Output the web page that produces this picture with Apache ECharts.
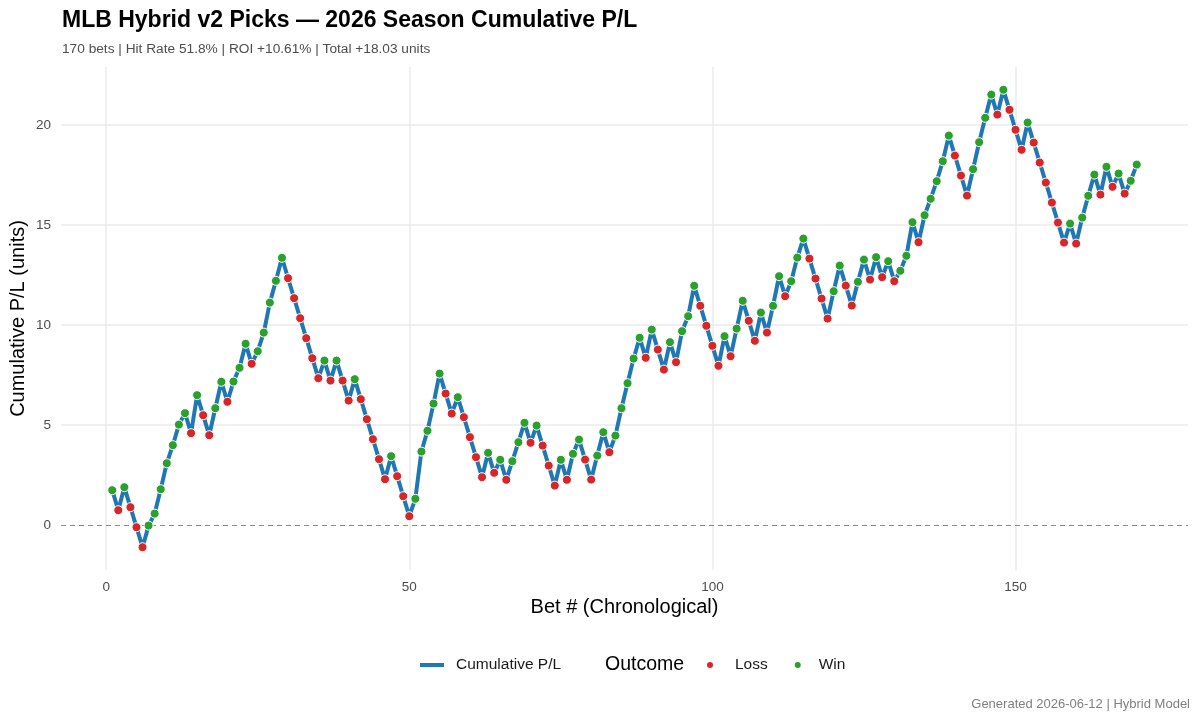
<!DOCTYPE html>
<html>
<head>
<meta charset="utf-8">
<script src="https://cdn.jsdelivr.net/npm/echarts@6/dist/echarts.min.js"></script>
<style>
  html, body { margin: 0; padding: 0; background: #fff; }
  #chart_container { width: 1200px; height: 720px; }
</style>
</head>
<body>
<div id="chart_container"></div>
<script>
// cumulative P/L after each bet
var cumulative = [
  1.75, 0.75, 1.9, 0.9, -0.1, -1.1, -0.02, 0.58, 1.8, 3.1,
  4.0, 5.03, 5.6, 4.6, 6.5, 5.5, 4.5, 5.85, 7.17, 6.17,
  7.18, 7.87, 9.07, 8.07, 8.7, 9.63, 11.13, 12.22, 13.37, 12.35,
  11.35, 10.35, 9.35, 8.35, 7.35, 8.23, 7.23, 8.23, 7.23, 6.23,
  7.3, 6.3, 5.3, 4.3, 3.3, 2.3, 3.45, 2.45, 1.45, 0.45,
  1.32, 3.68, 4.72, 6.08, 7.58, 6.58, 5.58, 6.4, 5.4, 4.4,
  3.4, 2.4, 3.62, 2.62, 3.27, 2.27, 3.2, 4.15, 5.12, 4.12,
  4.98, 3.98, 2.98, 1.98, 3.27, 2.27, 3.57, 4.28, 3.28, 2.28,
  3.48, 4.65, 3.65, 4.48, 5.85, 7.1, 8.33, 9.37, 8.37, 9.78,
  8.78, 7.78, 9.15, 8.15, 9.7, 10.45, 11.97, 10.97, 9.97, 8.97,
  7.97, 9.45, 8.45, 9.83, 11.22, 10.22, 9.22, 10.63, 9.63, 10.97,
  12.45, 11.45, 12.2, 13.38, 14.33, 13.33, 12.33, 11.33, 10.33, 11.7,
  12.98, 11.98, 10.98, 12.17, 13.28, 12.28, 13.4, 12.4, 13.2, 12.2,
  12.72, 13.47, 15.15, 14.15, 15.5, 16.32, 17.2, 18.2, 19.48, 18.48,
  17.48, 16.48, 17.8, 19.15, 20.37, 21.53, 20.53, 21.77, 20.77, 19.77,
  18.77, 20.13, 19.13, 18.13, 17.13, 16.13, 15.13, 14.13, 15.08, 14.08,
  15.38, 16.47, 17.53, 16.53, 17.92, 16.92, 17.58, 16.58, 17.22, 18.03
];

// W = win, L = loss
var outcomes = (
  "WLWLLLWWWW" + "WWWLWLLWWL" + "WWWLWWWWWL" + "LLLLLWLWLL" +
  "WLLLLLWLLL" + "WWWWWLLWLL" + "LLWLWLWWWL" + "WLLLWLWWLL" +
  "WWLWWWWWLW" + "LLWLWWWLLL" + "LWLWWLLWLW" + "WLWWWLLLLW" +
  "WLLWWLWLWL" + "WWWLWWWWWL" + "LLWWWWLWLL" + "LWLLLLLLWL" +
  "WWWLWLWLWW"
).split("");

var xTicks = [0, 50, 100, 150];
var yTicks = [0, 5, 10, 15, 20];
var gridX = [0, 50, 100, 150];
var gridY = [5, 10, 15, 20];

var lineData = [];
var lossData = [];
var winData = [];
for (var i = 0; i < cumulative.length; i++) {
  var pt = [i + 1, cumulative[i]];
  lineData.push(pt);
  if (outcomes[i] === "W") winData.push(pt);
  else lossData.push(pt);
}

var gridLines = [];
gridX.forEach(function (v) { gridLines.push({ xAxis: v }); });
gridY.forEach(function (v) { gridLines.push({ yAxis: v }); });

var dom = document.getElementById("chart_container");
var myChart = echarts.init(dom, null, { renderer: "canvas" });

var font = "Liberation Sans, Arial, sans-serif";

var option = {
  backgroundColor: "#ffffff",
  animation: false,
  textStyle: { fontFamily: font },
  title: {
    text: "MLB Hybrid v2 Picks \u2014 2026 Season Cumulative P/L",
    subtext: "170 bets | Hit Rate 51.8% | ROI +10.61% | Total +18.03 units",
    left: 62,
    top: 9,
    padding: 0,
    itemGap: 10,
    textStyle: { fontFamily: font, fontSize: 23, fontWeight: "bold", color: "#000" },
    subtextStyle: { fontFamily: font, fontSize: 13.7, color: "#4d4d4d" }
  },
  grid: { left: 61, right: 12, top: 67, bottom: 150, outerBoundsMode: "none", containLabel: false },
  xAxis: {
    type: "value",
    min: -7.45,
    max: 178.45,
    name: "Bet # (Chronological)",
    nameLocation: "middle",
    nameGap: 27,
    nameMoveOverlap: false,
    nameTextStyle: { fontFamily: font, fontSize: 20, color: "#000" },
    axisLine: { show: false },
    axisTick: { show: false, customValues: xTicks },
    axisLabel: { customValues: xTicks, color: "#4d4d4d", fontSize: 13.5, margin: 10 },
    splitLine: { show: false }
  },
  yAxis: {
    type: "value",
    min: -2.24,
    max: 22.91,
    name: "Cumulative P/L (units)",
    nameLocation: "middle",
    nameGap: 33,
    nameMoveOverlap: false,
    nameTextStyle: { fontFamily: font, fontSize: 20, color: "#000" },
    axisLine: { show: false },
    axisTick: { show: false, customValues: yTicks },
    axisLabel: { customValues: yTicks, color: "#4d4d4d", fontSize: 13.5, margin: 10 },
    splitLine: { show: false }
  },
  legend: [
    {
      data: [{ name: "Cumulative P/L", icon: "rect" }],
      left: 420,
      top: 657,
      padding: 0,
      itemWidth: 24,
      itemHeight: 4,
      textStyle: { fontFamily: font, fontSize: 15.5, color: "#1a1a1a", padding: [0, 0, 0, 7] }
    },
    {
      data: [
        { name: "Loss", icon: "circle" },
        { name: "Win", icon: "circle", textStyle: { padding: [0, 0, 0, 12] } }
      ],
      left: 705,
      top: 657,
      padding: 0,
      itemWidth: 8,
      itemHeight: 8,
      itemGap: 25,
      textStyle: { fontFamily: font, fontSize: 15.5, color: "#1a1a1a", padding: [0, 0, 0, 16] }
    }
  ],
  graphic: [
    {
      type: "text",
      left: 605,
      top: 655,
      style: { text: "Outcome", fontFamily: font, fontSize: 19.5, fill: "#000" }
    },
    {
      type: "text",
      right: 10,
      top: 698,
      style: { text: "Generated 2026-06-12 | Hybrid Model", fontFamily: font, fontSize: 13, fill: "#808080" }
    }
  ],
  series: [
    {
      name: "Cumulative P/L",
      type: "line",
      data: lineData,
      showSymbol: false,
      color: "#1f77b4",
      lineStyle: { width: 4, color: "#1f77b4", join: "round" },
      z: 3,
      markLine: {
        silent: true,
        symbol: "none",
        label: { show: false },
        z: 1,
        lineStyle: { color: "#ebebeb", width: 1.5, type: "solid" },
        data: gridLines.concat([
          { yAxis: 0, lineStyle: { color: "#8c8c8c", type: [5, 4], width: 1.2 } }
        ])
      }
    },
    {
      name: "Loss",
      type: "scatter",
      data: lossData,
      symbolSize: 9,
      color: "#d62728",
      itemStyle: { color: "#d62728", borderColor: "#ffffff", borderWidth: 1, opacity: 1 },
      z: 4
    },
    {
      name: "Win",
      type: "scatter",
      data: winData,
      symbolSize: 9,
      color: "#2ca02c",
      itemStyle: { color: "#2ca02c", borderColor: "#ffffff", borderWidth: 1, opacity: 1 },
      z: 4
    }
  ]
};

myChart.setOption(option);
window.addEventListener("resize", myChart.resize);
</script>
</body>
</html>
